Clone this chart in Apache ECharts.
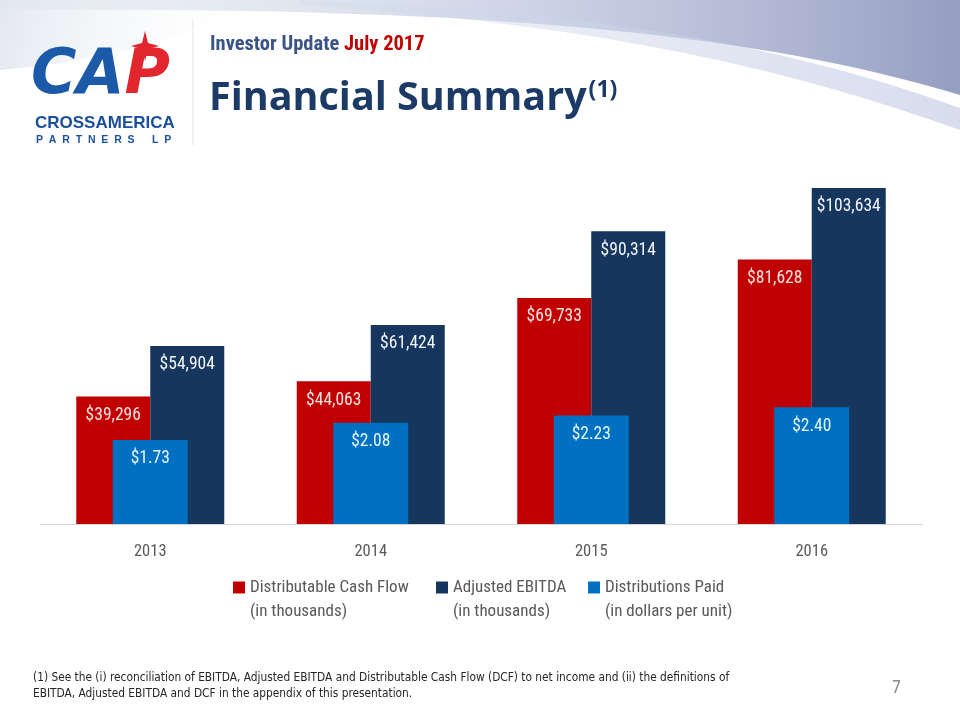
<!DOCTYPE html>
<html>
<head>
<meta charset="utf-8">
<script src="https://cdn.jsdelivr.net/npm/echarts@6/dist/echarts.min.js"></script>
<style>
html,body{margin:0;padding:0;background:#fff;}
#main{width:960px;height:720px;}
</style>
</head>
<body>
<div id="main"></div>
<script>
// ---- data ----
const years = ['2013', '2014', '2015', '2016'];
const dcf = [39296, 44063, 69733, 81628];          // Distributable Cash Flow (thousands)
const ebitda = [54904, 61424, 90314, 103634];     // Adjusted EBITDA (thousands)
const distPaid = [1.73, 2.08, 2.23, 2.40];        // Distributions Paid ($/unit)
const seriesNames = ['Distributable Cash Flow', 'Adjusted EBITDA', 'Distributions Paid'];
const seriesSubs = ['(in thousands)', '(in thousands)', '(in dollars per unit)'];

const condensed = "'Roboto Condensed', 'Liberation Sans Narrow', 'DejaVu Sans Condensed', sans-serif";
const footFont = "'DejaVu Sans Condensed', 'Roboto Condensed', sans-serif";
const fmtK = v => '$' + v.toLocaleString('en-US');
const fmtD = v => '$' + v.toFixed(2);

// decorative curve helper (background swoosh only)
function bez(p0, p1, p2, p3, n) {
  const pts = [];
  for (let i = 0; i <= n; i++) {
    const t = i / n, u = 1 - t;
    pts.push([
      u*u*u*p0[0] + 3*u*u*t*p1[0] + 3*u*t*t*p2[0] + t*t*t*p3[0],
      u*u*u*p0[1] + 3*u*u*t*p1[1] + 3*u*t*t*p2[1] + t*t*t*p3[1]
    ]);
  }
  return pts;
}
const swoosh1 = [[0, 0], [960, 0]].concat(bez([960, 95], [760, 35], [500, 6], [0, 10], 40));
const swoosh2 = bez([300, 0], [560, 10], [760, 36], [960, 108], 40).concat(bez([960, 130], [760, 58], [560, 22], [300, 5], 40));
const swoosh3 = [[0, 0], [260, 0]].concat(bez([260, 0], [200, 30], [120, 60], [0, 70], 20));

const chart = echarts.init(document.getElementById('main'), null, {renderer: 'canvas'});

function legendFor(i, left) {
  return {
    data: [seriesNames[i]],
    left: left, top: 555, padding: 0,
    icon: 'rect', itemWidth: 12, itemHeight: 12, itemGap: 0,
    selectedMode: false,
    formatter: n => '{e| }\n{a|' + n + '}\n{a|' + seriesSubs[i] + '}',
    textStyle: {
      rich: {
        e: {fontSize: 17, lineHeight: 24, fontFamily: condensed, color: '#595959'},
        a: {fontSize: 17, lineHeight: 24, fontFamily: condensed, color: '#595959'}
      }
    }
  };
}

const labelBase = {show: true, position: 'insideTop', distance: 10, fontSize: 17.5, fontFamily: condensed};

const option = {
  animation: false,
  grid: {left: 40, right: 38, top: 135, bottom: 196},
  xAxis: [
    {type: 'category', data: years,
     axisLine: {lineStyle: {color: '#d9d9d9', width: 1}},
     axisTick: {show: false},
     axisLabel: {color: '#595959', fontSize: 16.5, fontFamily: condensed, margin: 19}},
    {type: 'category', data: years, show: false}
  ],
  yAxis: [
    {type: 'value', min: 0, max: 120000, show: false, splitLine: {show: false}},
    {type: 'value', min: 0, max: 8, show: false, splitLine: {show: false}}
  ],
  legend: [legendFor(0, 233), legendFor(1, 436), legendFor(2, 588)],
  series: [
    {name: seriesNames[0], type: 'bar', xAxisIndex: 0, yAxisIndex: 0, data: dcf,
     barWidth: 74, barGap: '0%', itemStyle: {color: '#c00000'},
     label: Object.assign({}, labelBase, {color: '#ffe1e1', formatter: p => fmtK(p.value)})},
    {name: seriesNames[1], type: 'bar', xAxisIndex: 0, yAxisIndex: 0, data: ebitda,
     barWidth: 74, barGap: '0%', itemStyle: {color: '#17365d'},
     label: Object.assign({}, labelBase, {color: '#f2f6ff', formatter: p => fmtK(p.value)})},
    {name: seriesNames[2], type: 'bar', xAxisIndex: 1, yAxisIndex: 1, data: distPaid,
     barWidth: 75, itemStyle: {color: '#0070c0'}, z: 3,
     label: Object.assign({}, labelBase, {color: '#e3f6ff', formatter: p => fmtD(p.value)})}
  ],
  graphic: [
    {type: 'polygon', z: -11, silent: true, shape: {points: swoosh3},
     style: {fill: {type: 'linear', x: 0, y: 0, x2: 1, y2: 1, colorStops: [
       {offset: 0, color: 'rgba(215,222,232,0.7)'},
       {offset: 1, color: 'rgba(255,255,255,0)'}]}}},
    {type: 'polygon', z: -10, silent: true, shape: {points: swoosh1},
     style: {fill: {type: 'linear', x: 0, y: 0, x2: 1, y2: 0, colorStops: [
       {offset: 0, color: 'rgba(225,230,238,0.4)'},
       {offset: 0.5, color: 'rgba(180,190,218,0.6)'},
       {offset: 1, color: 'rgba(138,148,188,0.9)'}]}}},
    {type: 'polygon', z: -9, silent: true, shape: {points: swoosh2},
     style: {fill: {type: 'linear', x: 0, y: 0, x2: 1, y2: 0, colorStops: [
       {offset: 0, color: 'rgba(205,218,235,0.3)'},
       {offset: 1, color: 'rgba(200,205,230,0.7)'}]}}},
    {type: 'line', shape: {x1: 193, y1: 20, x2: 193, y2: 145}, style: {stroke: '#e3e3e3', lineWidth: 1}},
    {type: 'text', left: 31, top: 46, style: {
      text: '{b|CA}{r|P}',
      rich: {
        b: {fontSize: 62, fontWeight: 900, fontStyle: 'italic', fontFamily: "'DejaVu Sans', sans-serif", fill: '#1a5aa8'},
        r: {fontSize: 62, fontWeight: 900, fontStyle: 'italic', fontFamily: "'DejaVu Sans', sans-serif", fill: '#e1262d'}
      }}},
    {type: 'polygon', shape: {points: [[145,31],[148,43],[159,46],[148,49],[145,61],[142,49],[131,46],[142,43]]},
     style: {fill: '#e1262d'}},
    {type: 'text', left: 35, top: 115, style: {text: 'CROSSAMERICA', fontSize: 17, fontWeight: 'bold',
      fontFamily: "'Liberation Sans', Arial, sans-serif", fill: '#1a4f9c'}},
    {type: 'text', left: 36, top: 135, style: {text: 'P  A  R  T  N  E  R  S      L  P', fontSize: 10.5, fontWeight: 'bold',
      fontFamily: "'Liberation Sans', Arial, sans-serif", fill: '#1a4f9c'}},
    {type: 'text', left: 210, top: 34, style: {
      text: '{a|Investor Update }{b|July 2017}',
      rich: {
        a: {fontSize: 20.5, fontWeight: 'bold', fontFamily: condensed, fill: '#3b5486'},
        b: {fontSize: 20.5, fontWeight: 'bold', fontFamily: condensed, fill: '#c00000'}
      }}},
    {type: 'text', left: 209, top: 79, style: {
      text: '{a|Financial Summary}{s|(1)}',
      rich: {
        a: {fontSize: 39.5, fontWeight: 'bold', fontFamily: "'Open Sans', 'Noto Sans', sans-serif", fill: '#1b3a66', verticalAlign: 'bottom'},
        s: {fontSize: 23, fontWeight: 'bold', fontFamily: "'Open Sans', 'Noto Sans', sans-serif", fill: '#1b3a66', verticalAlign: 'top', padding: [0, 0, 16, 2]}
      }}},
    {type: 'text', left: 33, top: 670, style: {
      text: '(1) See the (i) reconciliation of EBITDA, Adjusted EBITDA and Distributable Cash Flow (DCF) to net income and (ii) the definitions of\nEBITDA, Adjusted EBITDA and DCF in the appendix of this presentation.',
      fontSize: 11.8, lineHeight: 16, fontFamily: footFont, fill: '#262626'}},
    {type: 'text', left: 892, top: 679, style: {text: '7', fontSize: 18, fontFamily: condensed, fill: '#8c8c8c'}}
  ]
};
chart.setOption(option);
</script>
</body>
</html>
